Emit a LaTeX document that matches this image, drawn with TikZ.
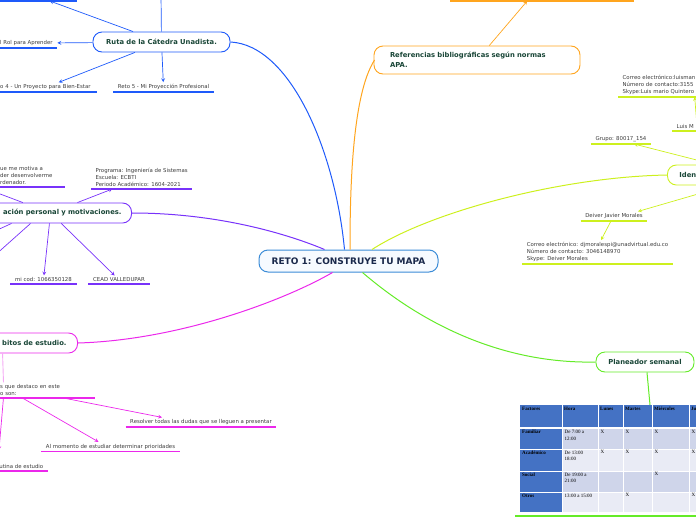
\documentclass[tikz,border=0pt]{standalone}
\usepackage{fontspec}
\setmainfont{DejaVu Sans}
\newfontfamily\tablafont{Liberation Serif}
\usepackage{tikz}
\usetikzlibrary{arrows, positioning}
\definecolor{rutablue}{RGB}{30,90,250}
\definecolor{presviolet}{RGB}{120,50,250}
\definecolor{habmagenta}{RGB}{235,40,235}
\definecolor{habpink}{RGB}{245,170,245}
\definecolor{refsorange}{RGB}{255,165,30}
\definecolor{identlime}{RGB}{205,240,30}
\definecolor{plangreen}{RGB}{100,235,40}
\definecolor{mainedge}{RGB}{60,140,215}
\definecolor{mainfill}{RGB}{246,250,255}
\definecolor{mainnavy}{RGB}{25,40,75}
\definecolor{topicgreen}{RGB}{25,70,55}
\definecolor{leafgrey}{RGB}{60,60,60}
\definecolor{tabblue}{RGB}{68,114,196}
\definecolor{tabdark}{RGB}{207,213,234}
\definecolor{tablight}{RGB}{233,235,245}

\begin{document}
\begin{tikzpicture}[x=1pt, y=-1pt]
        \tikzstyle{mainbox} = [rectangle, rounded corners=9pt, draw=mainedge, fill=mainfill, line width=1pt, minimum width=179pt, minimum height=22pt, font=\bfseries\fontsize{9}{10}\selectfont, text=mainnavy]
        \tikzstyle{topic} = [rectangle, rounded corners=9pt, fill=white, line width=0.9pt, minimum height=20pt, font=\bfseries\fontsize{6.8}{9.5}\selectfont, text=topicgreen]
        \tikzstyle{leaf} = [inner xsep=4.5pt, inner ysep=2pt, font=\fontsize{5.4}{7}\selectfont, text=leafgrey, align=left]
        \tikzstyle{arrow} = [line width=0.7pt, ->, >=stealth]
        \tikzstyle{branch} = [line width=1pt]
        \tikzstyle{uline} = [line width=1.5pt]
        \tikzstyle{cell} = [anchor=north west, inner sep=0.5pt, font=\tablafont\fontsize{5}{6.5}\selectfont, align=left]
        \tikzstyle{cellbold} = [anchor=north west, inner sep=0.5pt, text height=3.6pt, font=\tablafont\bfseries\fontsize{5}{6.5}\selectfont]

        \useasboundingbox (0,0) rectangle (696,520);
        \clip (0,0) rectangle (696,520);

        % centre
        \node (reto) [mainbox] at (348.5,261) {RETO 1: CONSTRUYE TU MAPA};

        % ruta de la catedra
        \node (ruta) [topic, draw=rutablue, minimum width=137pt] at (161.5,42) {Ruta de la Cátedra Unadista.};
        \node (rutaA) [leaf, anchor=south east, minimum width=100pt, minimum height=9pt] at (77,1) {};
        \coordinate (rutaB) at (161,-6);
        \node (rol) [leaf, anchor=south west, text width=52.5pt] at (-4.5,48) {l Rol para Aprender};
        \node (reto4) [leaf, anchor=south west, text width=92.5pt] at (-4.5,92) {o 4 - Un Proyecto para Bien-Estar};
        \node (reto5) [leaf, anchor=south] at (163.5,92) {Reto 5 - Mi Proyección Profesional};

        \draw [branch, rutablue] (ruta.east) .. controls (290,45) and (335,150) .. ([xshift=-4pt]reto.north);
        \draw [arrow, rutablue] (ruta) -- ([xshift=23pt]rutaA.south);
        \draw [rutablue, line width=0.7pt] (ruta) -- (rutaB);
        \draw [arrow, rutablue] (ruta) -- (rol);
        \draw [arrow, rutablue] (ruta) -- (reto4);
        \draw [arrow, rutablue] (ruta) -- (reto5);

        % presentacion
        \node (pres) [topic, draw=presviolet, anchor=east, text width=142pt, align=right, inner xsep=10pt] at (132,213) {ación personal y motivaciones.};
        \node (motiva) [leaf, anchor=south west, text width=60.5pt] at (-4.5,187) {ue me motiva a\\der desenvolverme\\rdenador.};
        \node (progr) [leaf, anchor=south west] at (91,189) {Programa: Ingeniería de Sistemas\\Escuela: ECBTI\\Periodo Académico: 1604-2021};
        \node (cod) [leaf, anchor=south] at (43.5,284) {mi cod: 1066350128};
        \node (cead) [leaf, anchor=south] at (119,284) {CEAD VALLEDUPAR};
        \coordinate (presA) at (-29,183);
        \coordinate (presB) at (-16,236);
        \coordinate (presC) at (-16,265);

        \draw [branch, presviolet] (pres.east) .. controls (220,213) and (290,235) .. ([xshift=-24pt]reto.north);
        \draw [arrow, presviolet] (pres) -- (presA);
        \draw [arrow, presviolet] (pres) -- (progr);
        \draw [arrow, presviolet] (pres) -- (cod);
        \draw [arrow, presviolet] (pres) -- (cead);
        \draw [arrow, presviolet] ([xshift=-39pt]pres.south) -- (presB);
        \draw [arrow, presviolet] ([xshift=-20pt]pres.south) -- (presC);

        % habitos
        \node (habitos) [topic, draw=habmagenta, anchor=east, text width=100pt, align=right, inner xsep=11pt] at (78,343) {bitos de estudio.};
        \node (destaco) [leaf, anchor=south west, text width=90.5pt] at (-4.5,398) {s que destaco en este\\o son:};
        \node (resolver) [leaf, anchor=south] at (201,427) {Resolver todas las dudas que se lleguen a presentar};
        \node (priori) [leaf, anchor=south] at (110.5,451.5) {Al momento de estudiar determinar prioridades};
        \node (rutina) [leaf, anchor=south east] at (48,471) {utina de estudio};
        \coordinate (habC) at (-1,450);

        \draw [branch, habmagenta] (habitos.east) .. controls (180,340) and (285,300) .. ([xshift=-16pt]reto.south);
        \draw [habpink, line width=0.9pt] ([xshift=-14pt]habitos.south) -- ([xshift=8pt]destaco.north west);
        \draw [arrow, habmagenta] ([xshift=18pt]destaco.south) -- ([xshift=-39pt]resolver.north);
        \draw [arrow, habmagenta] ([xshift=-23pt]destaco.south) -- ([xshift=-12pt]priori.north);
        \draw [arrow, habmagenta] ([xshift=-42pt]destaco.south) -- (habC);

        % referencias
        \node (refs) [topic, draw=refsorange, text width=174pt, align=left, inner xsep=16pt, minimum height=28pt] at (477,60) {Referencias bibliográficas según normas\\APA.};
        \node (refsA) [leaf, anchor=south west, minimum width=184pt, minimum height=9pt] at (450,1) {};

        \draw [branch, refsorange] ([xshift=1pt]refs.west) .. controls (352,95) and (350,190) .. ([xshift=1.5pt]reto.north);
        \draw [arrow, refsorange] (refs) -- ([xshift=-15pt]refsA.south);

        % identificacion
        \node (ident) [topic, draw=identlime, anchor=west, text width=86pt, align=left, inner xsep=12pt] at (667,175) {Iden};
        \node (grupo) [leaf, anchor=south] at (621,144) {Grupo: 80017\_154};
        \node (deiver) [leaf, anchor=south] at (614,221) {Deiver Javier Morales};
        \node (deivercont) [leaf, anchor=south] at (597.5,264) {Correo electrónico: djmoralespi@unadvirtual.edu.co\\Número de contacto: 3046148970\\Skype: Deiver Morales};
        \node (luis) [leaf, anchor=south west, text width=40pt] at (672,131) {Luis M};
        \node (luiscont) [leaf, anchor=south west, text width=90pt] at (618,97) {Correo electrónico:luisman\\Número de contacto:3155\\Skype:Luis mario Quintero};

        \draw [branch, identlime] (ident.west) .. controls (560,177) and (430,212) .. ([xshift=23.5pt]reto.north);
        \draw [arrow, identlime] ([xshift=-8pt]ident.north) -- ([xshift=13pt]grupo.south);
        \draw [arrow, identlime] ([xshift=5pt]ident.south) -- ([xshift=24pt]deiver.north);
        \draw [arrow, identlime] ([xshift=-3pt]deiver.south) -- ([xshift=3.5pt]deivercont.north);
        \draw [arrow, identlime] (luis.north) -- ([xshift=27pt]luiscont.south);

        % planeador
        \node (plan) [topic, draw=plangreen, minimum width=98pt] at (645,362) {Planeador semanal};
        \coordinate (tabla) at (650,405);

        \draw [branch, plangreen] (plan.west) .. controls (500,364) and (420,322) .. ([xshift=14pt]reto.south);
        \draw [branch, plangreen] ([xshift=2pt]plan.south) -- (tabla);

        % tabla
        \fill [tabblue] (520,405) rectangle (700,427);
        \fill [tabblue] (520,428.5) rectangle (562,512);
        \fill [tabdark] (562,428.5) rectangle (700,449);
        \fill [tablight] (562,449) rectangle (700,471);
        \fill [tabdark] (562,471) rectangle (700,492);
        \fill [tablight] (562,492) rectangle (700,512);
        \foreach \x in {562,598,623,652,689}
            \draw [white, line width=0.6pt] (\x,405) -- (\x,512);
        \foreach \y in {449,471,492}
            \draw [white, line width=0.4pt] (520,\y) -- (700,\y);

        \foreach \x/\txt [count=\i] in {520/Factores, 562/Hora, 598/Lunes, 623/Martes, 652/Miércoles, 689/Ju}
            \node (h\i) [cellbold] at (\x+1.5,406) {\txt};

        \foreach \y/\fac/\hora/\lu/\ma/\mi/\ju [count=\i] in {428.5/Familiar/{De 7:00 a\\12:00}/X/X/X/X, 449/Académico/{De 13:00\\18:00}/X/X/X/X, 471/Social/{De 19:00 a\\21:00}/{}/{}/X/{}, 492/Otros/{13:00 a 15:00}/{}/X/{}/X}
        {
            \node (f\i) [cellbold] at (521.5,\y+1) {\fac};
            \node (t\i) [cell] at (564,\y+1) {\hora};
            \node (lu\i) [cell] at (600,\y+1) {\lu};
            \node (ma\i) [cell] at (625,\y+1) {\ma};
            \node (mi\i) [cell] at (654,\y+1) {\mi};
            \node (ju\i) [cell] at (691,\y+1) {\ju};
        }

        % underlines
        \foreach \n in {rutaA, rol, reto4, reto5}
            \draw [uline, rutablue] (\n.south west) -- (\n.south east);
        \foreach \n in {motiva, progr, cod, cead}
            \draw [uline, presviolet] (\n.south west) -- (\n.south east);
        \foreach \n in {destaco, resolver, priori, rutina}
            \draw [uline, habmagenta] (\n.south west) -- (\n.south east);
        \draw [uline, refsorange] (refsA.south west) -- (refsA.south east);
        \foreach \n in {grupo, deiver, deivercont, luis, luiscont}
            \draw [uline, identlime] (\n.south west) -- (\n.south east);
        \draw [uline, plangreen] (515,516) -- (700,516);
\end{tikzpicture}
\end{document}
